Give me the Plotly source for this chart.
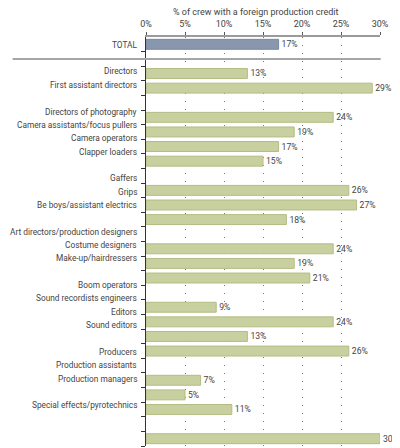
import plotly.graph_objects as go

# crew groups, top to bottom; one empty row is left between groups
total_labels = ["TOTAL"]
total_values = [17]
directing_labels = ["Directors", "First assistant directors"]
directing_values = [13, 29]
camera_labels = ["Directors of photography", "Camera assistants/focus pullers",
                 "Camera operators", "Clapper loaders"]
camera_values = [24, 19, 17, 15]
lighting_labels = ["Gaffers", "Grips", "Be boys/assistant electrics"]
lighting_values = [26, 27, 18]
design_labels = ["Art directors/production designers", "Costume designers",
                 "Make-up/hairdressers"]
design_values = [24, 19, 21]
sound_labels = ["Boom operators", "Sound recordists engineers", "Editors", "Sound editors"]
sound_values = [9, 24, 13, 26]
production_labels = ["Producers", "Production assistants", "Production managers"]
production_values = [7, 5, 11]
effects_labels = ["Special effects/pyrotechnics"]
effects_values = [30]

x_ticks = [0, 5, 10, 15, 20, 25, 30]
axis_title = "% of crew with a foreign production credit"

label_groups = [total_labels, directing_labels, camera_labels, lighting_labels,
                design_labels, sound_labels, production_labels, effects_labels]
value_groups = [total_values, directing_values, camera_values, lighting_values,
                design_values, sound_values, production_values, effects_values]

rows, labels, values = [], [], []
pos = 0
for labs, vals in zip(label_groups, value_groups):
    for lab, val in zip(labs, vals):
        rows.append(pos)
        labels.append(lab)
        values.append(val)
        pos += 1
    pos += 1
n_rows = pos - 1  # drop the trailing gap: 28 rows, 0..27

# row names in the original sit on a tighter pitch than the bars
label_pitch = 0.914

font = "Roboto"
green = "#c9d0a0"
colors = ["#8896ae"] + [green] * (len(values) - 1)
edges = ["#7a88a2"] + ["#b4bc84"] * (len(values) - 1)

bars = go.Bar(
    x=values, y=rows, orientation="h", width=0.68,
    marker=dict(color=colors, line=dict(color=edges, width=1)),
    text=[f"{v}%" for v in values], textposition="outside",
    textfont=dict(family=font, size=8.7, color="#444"),
    cliponaxis=False, hoverinfo="skip", showlegend=False,
)

row_names = [dict(
    text=lab, xref="paper", yref="y", x=0, y=0.03 + r * label_pitch,
    xanchor="right", yanchor="middle", xshift=-7, showarrow=False,
    font=dict(family=font, size=8.3, color="#444"),
) for r, lab in zip(rows, labels)]

title = dict(
    text=axis_title, xref="paper", yref="paper", x=0.472, y=1.06,
    showarrow=False, xanchor="center", yanchor="middle",
    font=dict(family=font, size=9, color="#444"),
)

# the page body adds an 8px offset, so the figure starts 8px in
layout = go.Layout(
    width=400, height=440,
    margin=dict(l=138, r=28, t=29, b=2, autoexpand=False),
    paper_bgcolor="white", plot_bgcolor="white",
    font=dict(family=font, size=9, color="#444"),
    xaxis=dict(
        side="top", range=[0, 30], tickvals=x_ticks,
        ticktext=[f"{t}%" for t in x_ticks],
        showline=True, linecolor="#9a9a9a", linewidth=2,
        ticks="outside", ticklen=3, tickcolor="#555", ticklabelstandoff=1,
        showgrid=True, gridcolor="#777", gridwidth=1, griddash="1px,7px",
        zeroline=False, fixedrange=True, automargin=False,
    ),
    yaxis=dict(
        range=[n_rows - 0.5, -0.5], domain=[0, 1],
        tickvals=[i + 0.5 for i in range(n_rows)], ticktext=[""] * n_rows,
        ticks="outside", ticklen=4, tickcolor="#333",
        showline=True, linecolor="#333", linewidth=1,
        showgrid=False, zeroline=False, automargin=False,
    ),
    shapes=[dict(
        type="line", xref="paper", yref="y", x0=-0.57, x1=1.003, y0=1, y1=1,
        line=dict(color="#a6a6a6", width=2),
    )],
    annotations=row_names + [title],
)

fig = go.Figure(data=[bars], layout=layout)
fig.write_html("out.html")
